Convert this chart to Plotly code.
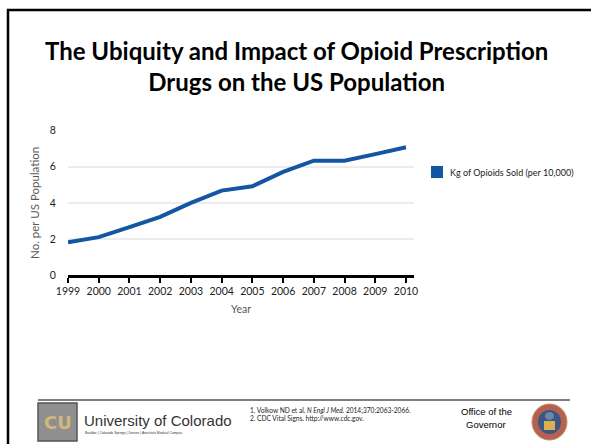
import plotly.graph_objects as go

# Kg of opioids sold per 10,000 US population
years = [1999, 2000, 2001, 2002, 2003, 2004, 2005, 2006, 2007, 2008, 2009, 2010]
kg_sold = [1.82, 2.1, 2.65, 3.22, 4.0, 4.68, 4.92, 5.72, 6.34, 6.34, 6.7, 7.08]
y_ticks = [0, 2, 4, 6, 8]
series_name = "Kg of Opioids Sold (per 10,000)"

W, H = 591, 444
BLUE = "#1356A3"
BODY = "Lato"


def px(x):
    return x / W


def py(y):
    return 1 - y / H


fig = go.Figure()
fig.add_trace(go.Scatter(
    x=years, y=kg_sold, mode="lines", name=series_name,
    line=dict(color=BLUE, width=4), showlegend=False,
))

shapes = [
    # slide frame
    dict(type="rect", xref="paper", yref="paper", x0=px(8), x1=px(620), y0=py(470), y1=py(10),
         line=dict(color="black", width=2.5)),
    # footer rule
    dict(type="line", xref="paper", yref="paper", x0=px(38), x1=px(570), y0=py(400), y1=py(400),
         line=dict(color="black", width=1)),
    # legend key
    dict(type="rect", xref="paper", yref="paper", x0=px(431), x1=px(443), y0=py(178), y1=py(166),
         fillcolor=BLUE, line=dict(width=0)),
    # CU badge
    dict(type="rect", xref="paper", yref="paper", x0=px(38), x1=px(77), y0=py(441), y1=py(403),
         fillcolor="#8f8f8f", line=dict(color="#555555", width=1.5)),
    # governor seal
    dict(type="circle", xref="paper", yref="paper", x0=px(532), x1=px(567), y0=py(440), y1=py(404),
         fillcolor="#b5614f", line=dict(color="#c98a6e", width=1)),
    dict(type="circle", xref="paper", yref="paper", x0=px(538), x1=px(561), y0=py(434), y1=py(410),
         fillcolor="#3b5687", line=dict(width=0)),
    dict(type="rect", xref="paper", yref="paper", x0=px(544), x1=px(555), y0=py(430), y1=py(421),
         fillcolor="#d9b24a", line=dict(width=0)),
    dict(type="circle", xref="paper", yref="paper", x0=px(545), x1=px(554), y0=py(420), y1=py(412),
         fillcolor="#6d86a8", line=dict(width=0)),
]

annotations = [
    dict(text="<b>The Ubiquity and Impact of Opioid Prescription<br>Drugs on the US Population</b>",
         x=px(296), y=py(66), font=dict(family=BODY, size=24, color="black")),
    dict(text=series_name, x=px(448), y=py(172), xanchor="left",
         font=dict(family=BODY, size=9, color="#222222")),
    dict(text="<b>CU</b>", x=px(57.5), y=py(422),
         font=dict(family="DejaVu Sans", size=18, color="#cfb87c")),
    dict(text="University of Colorado", x=px(82), y=py(420), xanchor="left",
         font=dict(family="Liberation Sans", size=15, color="#333333")),
    dict(text="Boulder | Colorado Springs | Denver | Anschutz Medical Campus", x=px(83), y=py(433),
         xanchor="left", font=dict(family="Liberation Sans", size=3.4, color="#333333")),
    dict(text="1. Volkow ND et al. <i>N Engl J Med.</i> 2014;370:2063-2066.", x=px(248), y=py(410),
         xanchor="left", font=dict(family=BODY, size=6.6, color="#222222")),
    dict(text="2. CDC Vital Signs. http://www.cdc.gov.", x=px(248), y=py(418), xanchor="left",
         font=dict(family=BODY, size=6.6, color="#222222")),
    dict(text="Office of the", x=px(486), y=py(411),
         font=dict(family="Liberation Sans", size=9.5, color="black")),
    dict(text="Governor", x=px(486), y=py(424),
         font=dict(family="Liberation Sans", size=9.5, color="black")),
]
for a in annotations:
    a.setdefault("xanchor", "center")
    a.update(xref="paper", yref="paper", showarrow=False, yanchor="middle")

fig.update_layout(
    width=W, height=H,
    margin=dict(l=0, r=0, t=0, b=0),
    paper_bgcolor="white", plot_bgcolor="white",
    shapes=shapes, annotations=annotations,
    showlegend=False,
    xaxis=dict(
        domain=[px(68), px(414)], range=[1999, 2010.26], automargin=False,
        tickmode="array", tickvals=years, ticktext=[str(y) for y in years],
        showgrid=False, zeroline=False,
        showline=True, linecolor="black", linewidth=2.5,
        ticks="outside", ticklen=5, tickwidth=2, tickcolor="black",
        tickfont=dict(family=BODY, size=10.5, color="#222222"),
        title=dict(text="Year", font=dict(family=BODY, size=10.5, color="#595959"), standoff=10),
    ),
    yaxis=dict(
        domain=[py(275), py(130.7)], range=[0, 8], automargin=False,
        tickmode="array", tickvals=y_ticks,
        showgrid=True, gridcolor="#ececec", gridwidth=1.5,
        zeroline=False, showline=False,
        ticks="outside", ticklen=9, tickcolor="rgba(0,0,0,0)",
        tickfont=dict(family=BODY, size=10.5, color="#222222"),
        title=dict(text="No. per US Population", font=dict(family=BODY, size=11.5, color="#595959"),
                   standoff=7),
    ),
)

fig.write_html("out.html")
